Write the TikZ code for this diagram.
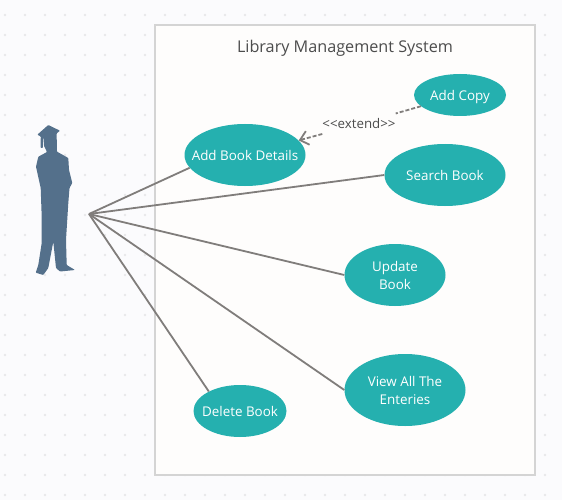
\documentclass[tikz,border=0pt]{standalone}
\usepackage{fontspec}
\setmainfont{Open Sans}
\usetikzlibrary{shapes.geometric,arrows.meta}
\definecolor{usecase}{HTML}{25B0AF}
\definecolor{actorblue}{HTML}{54708B}
\definecolor{wire}{HTML}{807D7B}
\definecolor{pagebg}{HTML}{FBFBFD}
\definecolor{griddot}{HTML}{E8E8EA}
\definecolor{boxfill}{HTML}{FEFDFC}
\tikzset{
    usecasenode/.style={ellipse, fill=usecase, text=white, inner xsep=-20pt, inner ysep=0pt, align=center, font=\fontsize{13.4}{18}\selectfont},
    onelinenode/.style={usecasenode, execute at begin node={\rule[-3.5pt]{0pt}{17.8pt}}},
    assoc/.style={draw=wire, line width=1.8pt},
    extendline/.style={draw=wire, line width=1.8pt, dash pattern=on 4pt off 2pt}
}
\begin{document}
\begin{tikzpicture}[x=1pt, y=-1pt]
    \useasboundingbox (0,0) rectangle (562,500);
    \fill[pagebg] (0,0) rectangle (562,500);
    % Background dots
    \foreach \i in {0,...,27} {
        \foreach \j in {0,...,24} {
            \fill[griddot] (5+20*\i,15+20*\j) circle (1.3pt);
        }
    }

    % System boundary
    \draw[draw=black!17, fill=boxfill, line width=1.8pt] (155,25) rectangle (535,475);
    \node[text=black!70, font=\fontsize{16.2}{18}\selectfont] (systemtitle) at (345,48) {Library Management System};

    % Actor
    \fill[actorblue, rounded corners=0.8pt] (48.3,125) -- (60,130.7) -- (56.5,133.5) -- (57,146) -- (56.7,151.5) -- (68.3,158) -- (69,170) -- (72.3,183) -- (69.5,188)
        -- (68.3,203) -- (66,240) -- (66.7,265) -- (75,270) -- (60,271.5) -- (56,268) -- (53.3,241.7) -- (48.3,268)
        -- (43.3,275) -- (35.7,272.7) -- (38.3,265) -- (41.7,243) -- (41.7,216.7) -- (40.7,188) -- (36,166.7) -- (38.3,156.7)
        -- (47,152) -- (44,146) -- (43.5,138.5) -- (42.8,137.5) -- (42.8,148) -- (40.5,148) -- (40.8,136.5) -- (37.3,134.7) -- cycle;
    \coordinate (hand) at (89,214);

    % Use cases
    \node[onelinenode, minimum width=121pt, minimum height=62pt] (addbook) at (245,155) {Add Book Details};
    \node[onelinenode, minimum width=92pt, minimum height=42pt] (addcopy) at (460,95) {Add Copy};
    \node[onelinenode, minimum width=121pt, minimum height=62pt] (searchbook) at (445,175) {Search Book};
    \node[usecasenode, minimum width=101pt, minimum height=62pt] (updatebook) at (395,275) {\rule{0pt}{11pt}Update\\Book};
    \node[usecasenode, minimum width=121pt, minimum height=72pt] (viewall) at (405,390) {\rule{0pt}{11pt}View All The\\Enteries};
    \node[onelinenode, minimum width=93pt, minimum height=52pt] (deletebook) at (240,411) {Delete Book};

    % Associations
    \draw[assoc] (hand) -- (addbook.193.5);
    \draw[assoc] (hand) -- (searchbook.west);
    \draw[assoc] (hand) -- (updatebook.west);
    \draw[assoc] (hand) -- (viewall.west);
    \draw[assoc] (hand) -- (deletebook.148.5);

    % Extend
    \node[text=black!70, font=\fontsize{13.3}{14}\selectfont, inner sep=0pt, minimum width=72pt, minimum height=22pt] (extendlabel) at (359,124) {<{}<extend>{}>};
    \draw[extendline] (addcopy) -- (extendlabel);
    \draw[extendline, -{Straight Barb[length=8pt, width=14pt]}] (extendlabel) -- (addbook);
\end{tikzpicture}
\end{document}
